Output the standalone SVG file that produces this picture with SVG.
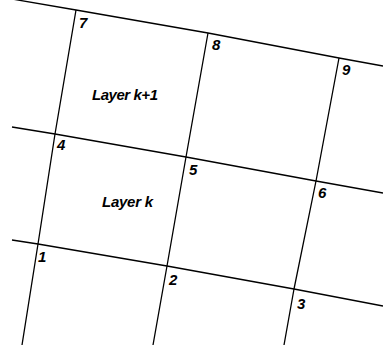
<svg xmlns="http://www.w3.org/2000/svg" width="383" height="345" viewBox="0 0 383 345">
<style>
.ln{fill:none;stroke:#000;stroke-width:1.3;stroke-linejoin:round}
.t{font-family:"Liberation Sans",Arial,sans-serif;font-weight:bold;font-style:italic;font-size:15px;fill:#000}
</style>
<rect width="383" height="345" fill="#fff"/>
<g id="connectors">
<polyline class="ln" points="12,-1 76,10 208,33 339,58 383,66"/>
<polyline class="ln" points="12,127 55,134 186,157 316,181 383,193"/>
<polyline class="ln" points="12,240 38,244 167,266 294,289 383,306"/>
<polyline class="ln" points="76,10 55,134 38,244 22,345"/>
<polyline class="ln" points="208,33 186,157 167,266 153,345"/>
<polyline class="ln" points="339,58 316,181 294,289 284,345"/>
</g>
<g id="n7"><text class="t" x="79" y="28" textLength="8">7</text></g>
<g id="n8"><text class="t" x="212" y="50" textLength="8">8</text></g>
<g id="n9"><text class="t" x="342" y="75" textLength="8">9</text></g>
<g id="n4"><text class="t" x="57" y="150" textLength="8">4</text></g>
<g id="n5"><text class="t" x="189" y="175" textLength="8">5</text></g>
<g id="n6"><text class="t" x="318" y="198" textLength="8">6</text></g>
<g id="n1"><text class="t" x="38" y="262" textLength="7">1</text></g>
<g id="n2"><text class="t" x="169" y="285" textLength="8">2</text></g>
<g id="n3"><text class="t" x="297" y="309" textLength="8">3</text></g>
<g id="layer-k1"><text class="t" x="92" y="100" textLength="66">Layer k+1</text></g>
<g id="layer-k"><text class="t" x="102" y="207" textLength="51">Layer k</text></g>
</svg>
